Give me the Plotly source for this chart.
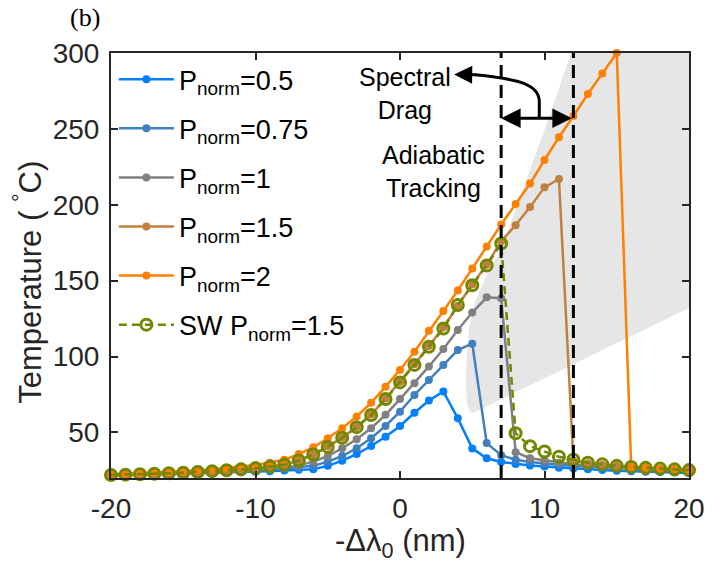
import plotly.graph_objects as go

# Detuning axis (nm) and temperature series (deg C)
detuning = list(range(-20, 21))

temp_p050 = [21.8, 22.0, 22.2, 22.4, 22.6, 22.8, 23.0, 23.2, 23.5, 23.8, 24.1, 24.5, 25.0,
             25.4, 25.8, 28.0, 31.4, 35.8, 41.1, 47.2, 54.3, 63.0, 71.0, 77.0, 59.3, 39.5,
             33.0, 30.5, 29.3, 28.3, 27.5, 26.8, 26.2, 25.7, 25.2, 24.8, 24.5, 24.2, 23.9,
             23.6, 23.3]
temp_p075 = [22.0, 22.1, 22.3, 22.5, 22.7, 22.9, 23.2, 23.5, 23.9, 24.3, 24.8, 25.4, 26.3,
             27.0, 28.0, 30.8, 34.5, 39.6, 46.2, 54.3, 63.7, 74.7, 84.6, 94.4, 104.3, 108.5,
             43.0, 35.0, 32.0, 30.5, 29.5, 28.7, 28.0, 27.5, 27.0, 26.5, 26.0, 25.7, 25.3,
             25.0, 24.7]
temp_p100 = [22.0, 22.2, 22.4, 22.6, 22.9, 23.2, 23.5, 23.9, 24.3, 24.7, 25.2, 25.8, 26.8,
             28.3, 30.8, 34.5, 39.6, 45.5, 52.8, 61.6, 72.0, 82.5, 93.5, 105.0, 117.5, 129.0,
             139.0, 138.5, 37.0, 33.0, 31.5, 30.0, 29.0, 28.3, 27.7, 27.2, 26.8, 26.4, 26.0,
             25.7, 25.4]
temp_p150 = [22.0, 22.2, 22.5, 22.8, 23.1, 23.5, 24.0, 24.5, 25.1, 25.7, 26.4, 27.5, 28.8,
             31.6, 35.6, 40.7, 46.7, 53.6, 61.8, 72.3, 83.3, 95.0, 107.0, 119.2, 133.5, 147.5,
             160.5, 176.0, 186.5, 198.5, 211.5, 217.0, 31.5, 29.8, 28.8, 28.0, 27.3, 26.7,
             26.2, 25.7, 25.2]
temp_p200 = [22.5, 22.8, 23.1, 23.5, 23.9, 24.4, 25.0, 25.7, 26.5, 27.5, 28.5, 30.0, 32.0,
             35.8, 40.3, 46.2, 52.8, 60.5, 69.5, 80.2, 91.2, 103.2, 117.0, 130.0, 143.5, 158.0,
             172.5, 187.0, 200.5, 214.0, 229.5, 244.5, 258.5, 273.0, 286.5, 300.0, 27.0, 26.5,
             26.0, 25.5, 25.0]
temp_sw150 = [22.0, 22.2, 22.5, 22.8, 23.1, 23.5, 24.0, 24.5, 25.1, 25.7, 26.4, 27.5, 28.8,
              31.5, 35.5, 40.5, 46.5, 53.5, 61.5, 72.0, 83.0, 94.5, 106.5, 118.5, 134.0, 147.0,
              160.0, 174.5, 49.5, 41.0, 37.5, 34.0, 32.0, 30.0, 29.0, 28.0, 27.3, 26.7, 26.2,
              25.7, 25.2]

# Axis ticks
x_ticks = [-20, -10, 0, 10, 20]
x_ticktext = ["-20", "-10", "0", "10", "20"]
y_ticks = [50, 100, 150, 200, 250, 300]

# Shaded operating region (detuning, temperature) outline
region_x = [11.83, 10.33, 8.6, 6.99, 5.9, 5.2, 4.8, 4.62, 4.56, 4.62, 4.78, 5.02, 20.0, 20.0]
region_y = [300.0, 258.0, 213.0, 170.2, 152.0, 136.0, 120.0, 100.0, 82.0, 70.0, 64.8, 62.7, 132.0, 300.0]

# Boundaries between the spectral-drag and adiabatic-tracking regimes
regime_bounds = [7, 12]

FONT = "Liberation Sans, Arial, sans-serif"
SERIF = "Liberation Serif"
AXIS_COLOR = "#262626"

series = [
    ("P<sub>norm</sub>=0.5", temp_p050, "rgb(0,128,255)"),
    ("P<sub>norm</sub>=0.75", temp_p075, "rgb(64,128,191)"),
    ("P<sub>norm</sub>=1", temp_p100, "rgb(128,128,128)"),
    ("P<sub>norm</sub>=1.5", temp_p150, "rgb(191,128,64)"),
    ("P<sub>norm</sub>=2", temp_p200, "rgb(255,128,0)"),
]

fig = go.Figure()

fig.add_trace(go.Scatter(
    x=region_x, y=region_y, fill="toself", mode="lines",
    line=dict(width=0, color="rgba(0,0,0,0)"),
    fillcolor="rgb(230,230,230)", showlegend=False, hoverinfo="skip",
))

for i, (name, vals, color) in enumerate(series):
    fig.add_trace(go.Scatter(
        x=detuning, y=vals, name=name, mode="lines+markers",
        line=dict(color=color, width=2.5),
        marker=dict(color=color, size=8, symbol="circle"),
        cliponaxis=False, legendgroup=f"g{i}",
    ))

fig.add_trace(go.Scatter(
    x=detuning, y=temp_sw150, name="SW P<sub>norm</sub>=1.5", mode="lines+markers",
    line=dict(color="rgb(115,135,0)", width=2.5, dash="8px,5px"),
    marker=dict(color="rgb(115,135,0)", size=11, symbol="circle-open",
                line=dict(width=3, color="rgb(115,135,0)")),
    cliponaxis=False, legendgroup="g5",
))

shapes = []
for xb in regime_bounds:
    shapes.append(dict(type="line", xref="x", yref="y", x0=xb, x1=xb, y0=20, y1=300,
                       line=dict(color="black", width=3, dash="13px,7px"), layer="above"))

# curved arrow linking the "Spectral Drag" label to the regime span
shapes.append(dict(type="path", xref="x", yref="y",
                   path="M 9.64,257 L 9.64,268 C 9.64,280 8.0,283 5.2,285.6",
                   line=dict(color="black", width=3), layer="above"))

annotations = [
    dict(x=7, y=257, ax=12, ay=257, xref="x", yref="y", axref="x", ayref="y",
         text="", showarrow=True, arrowhead=2, arrowside="end+start",
         arrowwidth=3, arrowsize=1.3, arrowcolor="black", standoff=0, startstandoff=0),
    dict(x=3.75, y=285.8, ax=5.4, ay=285.6, xref="x", yref="y", axref="x", ayref="y",
         text="", showarrow=True, arrowhead=2, arrowwidth=3, arrowsize=1.2,
         arrowcolor="black", standoff=0),
    dict(x=0.37, y=273.5, xref="x", yref="y", text="Spectral<br>Drag", showarrow=False,
         xanchor="center", yanchor="middle",
         font=dict(family=FONT, size=25, color="black"), align="center"),
    dict(x=2.3, y=222, xref="x", yref="y", text="Adiabatic<br>Tracking", showarrow=False,
         xanchor="center", yanchor="middle",
         font=dict(family=FONT, size=25, color="black"), align="center"),
    dict(x=-0.045, y=1.083, xref="paper", yref="paper", text="(b)", showarrow=False,
         xanchor="center", yanchor="middle",
         font=dict(family=SERIF, size=26, color="black")),
    dict(x=-0.145, y=0.46, xref="paper", yref="paper", textangle=-90,
         xanchor="center", yanchor="middle",
         text="Temperature ( <sup>°</sup>C)", showarrow=False,
         font=dict(family=FONT, size=31, color=AXIS_COLOR)),
    dict(x=0.5, y=-0.153, xref="paper", yref="paper", text="-Δλ<sub>0</sub> (nm)",
         showarrow=False, xanchor="center", yanchor="middle",
         font=dict(family=FONT, size=31, color=AXIS_COLOR)),
]

axis_common = dict(
    showgrid=False, zeroline=False, showline=True, linewidth=2, linecolor=AXIS_COLOR,
    mirror="allticks", ticks="inside", ticklen=7, tickwidth=2, tickcolor=AXIS_COLOR,
    tickfont=dict(family=FONT, size=28, color=AXIS_COLOR),
)

fig.update_layout(
    width=717, height=565,
    margin=dict(l=111, r=28, t=53, b=87),
    plot_bgcolor="white", paper_bgcolor="white",
    xaxis=dict(range=[-20, 20], tickvals=x_ticks, ticktext=x_ticktext, ticklabelstandoff=4,
               **axis_common),
    yaxis=dict(range=[20, 300], tickvals=y_ticks, ticklabelstandoff=4, **axis_common),
    legend=dict(x=0.005, y=0.995, xanchor="left", yanchor="top", bgcolor="rgba(0,0,0,0)",
                font=dict(family=FONT, size=27, color="black"), itemwidth=55,
                tracegroupgap=11, traceorder="grouped"),
    shapes=shapes, annotations=annotations,
)

fig.write_html("out.html")
